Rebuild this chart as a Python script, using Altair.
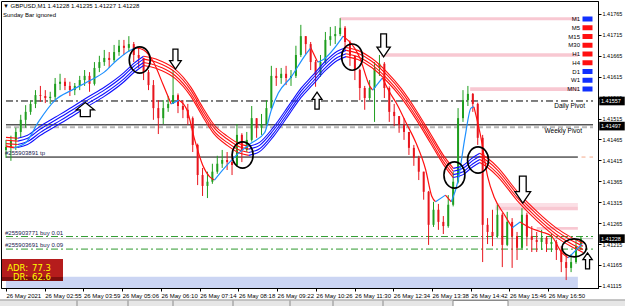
import altair as alt
import pandas as pd

# ---------------- data (GBPUSD M1, 26 May 2021) ----------------
# time axis: minutes after 01:51, one sampled bar every ~8 minutes
x_labels = ["26 May 2021", "26 May 02:55", "26 May 03:59", "26 May 05:06", "26 May 06:10",
            "26 May 07:14", "26 May 08:18", "26 May 09:22", "26 May 10:26", "26 May 11:30",
            "26 May 12:34", "26 May 13:38", "26 May 14:42", "26 May 15:46", "26 May 16:50"]
x_tick_min = [0, 64, 128, 192, 256, 320, 384, 448, 512, 576, 640, 704, 768, 832, 896]
y_ticks = [1.41115, 1.41165, 1.41215, 1.41265, 1.41315, 1.41365, 1.41415, 1.41465,
           1.41515, 1.41565, 1.41615, 1.41665, 1.41715, 1.41765]

close = [1.41447, 1.41464, 1.41483, 1.41512, 1.41531, 1.41550, 1.41571, 1.41569, 1.41564, 1.41567,
         1.41598, 1.41603, 1.41593, 1.41583, 1.41593, 1.41607, 1.41617, 1.41598, 1.41636, 1.41650,
         1.41660, 1.41655, 1.41674, 1.41689, 1.41684, 1.41693, 1.41667, 1.41660, 1.41626, 1.41595,
         1.41540, 1.41516, 1.41540, 1.41550, 1.41571, 1.41545, 1.41536, 1.41516, 1.41452, 1.41380,
         1.41354, 1.41364, 1.41388, 1.41407, 1.41416, 1.41411, 1.41404, 1.41476, 1.41440, 1.41464,
         1.41516, 1.41493, 1.41502, 1.41540, 1.41617, 1.41612, 1.41622, 1.41612, 1.41617, 1.41667,
         1.41712, 1.41693, 1.41650, 1.41619, 1.41650, 1.41703, 1.41712, 1.41717, 1.41732, 1.41698,
         1.41665, 1.41631, 1.41588, 1.41564, 1.41588, 1.41636, 1.41646, 1.41588, 1.41531, 1.41521,
         1.41500, 1.41483, 1.41445, 1.41421, 1.41388, 1.41340, 1.41261, 1.41297, 1.41268, 1.41258,
         1.41309, 1.41364, 1.41516, 1.41559, 1.41574, 1.41550, 1.41469, 1.41261, 1.41244, 1.41234,
         1.41285, 1.41213, 1.41268, 1.41234, 1.41206, 1.41285, 1.41234, 1.41225, 1.41220, 1.41230,
         1.41215, 1.41220, 1.41201, 1.41172, 1.41158, 1.41172, 1.41210, 1.41228]
high = [1.41464, 1.41474, 1.41493, 1.41524, 1.41547, 1.41559, 1.41583, 1.41593, 1.41583, 1.41579,
        1.41612, 1.41622, 1.41612, 1.41603, 1.41600, 1.41617, 1.41631, 1.41626, 1.41650, 1.41665,
        1.41679, 1.41674, 1.41691, 1.41703, 1.41703, 1.41712, 1.41698, 1.41684, 1.41660, 1.41631,
        1.41607, 1.41559, 1.41559, 1.41569, 1.41631, 1.41575, 1.41559, 1.41550, 1.41520, 1.41455,
        1.41397, 1.41388, 1.41407, 1.41426, 1.41440, 1.41435, 1.41431, 1.41502, 1.41480, 1.41483,
        1.41545, 1.41516, 1.41526, 1.41559, 1.41641, 1.41636, 1.41636, 1.41641, 1.41631, 1.41689,
        1.41739, 1.41712, 1.41698, 1.41655, 1.41667, 1.41722, 1.41734, 1.41736, 1.41755, 1.41736,
        1.41702, 1.41665, 1.41634, 1.41593, 1.41607, 1.41650, 1.41667, 1.41650, 1.41592, 1.41550,
        1.41521, 1.41516, 1.41483, 1.41452, 1.41426, 1.41388, 1.41342, 1.41316, 1.41311, 1.41282,
        1.41332, 1.41388, 1.41540, 1.41583, 1.41593, 1.41576, 1.41553, 1.41476, 1.41277, 1.41297,
        1.41309, 1.41290, 1.41292, 1.41277, 1.41244, 1.41301, 1.41290, 1.41258, 1.41244, 1.41249,
        1.41234, 1.41239, 1.41225, 1.41210, 1.41191, 1.41191, 1.41225, 1.41234]
low = [1.41421, 1.41414, 1.41440, 1.41469, 1.41493, 1.41524, 1.41540, 1.41555, 1.41552, 1.41550,
       1.41559, 1.41583, 1.41583, 1.41569, 1.41571, 1.41583, 1.41593, 1.41579, 1.41594, 1.41626,
       1.41641, 1.41636, 1.41650, 1.41665, 1.41667, 1.41674, 1.41650, 1.41636, 1.41607, 1.41583,
       1.41512, 1.41478, 1.41502, 1.41531, 1.41550, 1.41528, 1.41516, 1.41500, 1.41435, 1.41356,
       1.41330, 1.41325, 1.41359, 1.41383, 1.41397, 1.41392, 1.41380, 1.41400, 1.41411, 1.41435,
       1.41460, 1.41469, 1.41476, 1.41498, 1.41536, 1.41593, 1.41598, 1.41595, 1.41593, 1.41612,
       1.41662, 1.41669, 1.41631, 1.41591, 1.41615, 1.41646, 1.41689, 1.41693, 1.41712, 1.41679,
       1.41641, 1.41607, 1.41559, 1.41536, 1.41559, 1.41507, 1.41617, 1.41564, 1.41507, 1.41497,
       1.41481, 1.41464, 1.41428, 1.41402, 1.41368, 1.41321, 1.41213, 1.41256, 1.41249, 1.41239,
       1.41254, 1.41305, 1.41360, 1.41507, 1.41545, 1.41531, 1.41452, 1.41172, 1.41215, 1.41210,
       1.41230, 1.41160, 1.41210, 1.41158, 1.41177, 1.41202, 1.41210, 1.41196, 1.41196, 1.41201,
       1.41196, 1.41196, 1.41177, 1.41148, 1.41129, 1.41148, 1.41168, 1.41201]
first_open = 1.41440

# fast moving average
fast_t = [0, 13.0, 32.5, 53.6, 81.2, 108.8, 134.8, 162.4, 183.6, 206.3,
          216.0, 227.4, 243.7, 259.9, 272.9, 285.9, 298.9, 311.9, 324.9, 336.3,
          344.4, 362.2, 385.0, 406.1, 427.2, 438.6, 450.0, 471.1, 492.2, 503.6,
          514.9, 523.1, 557.2, 584.8, 601.0, 605.9, 622.1, 633.5, 644.9, 661.1,
          677.4, 693.6, 703.4, 709.9, 726.1, 735.9, 747.2, 758.6, 768.3, 773.2,
          784.6, 795.9, 807.3, 823.6, 836.6, 849.6, 865.8, 885.3, 901.5, 917.8,
          929.2, 942.2, 951.9]
fast_v = [1.41450, 1.41445, 1.41457, 1.41507, 1.41559, 1.41583, 1.41603, 1.41626, 1.41655, 1.41679,
          1.41684, 1.41679, 1.41650, 1.41595, 1.41550, 1.41559, 1.41536, 1.41464, 1.41404, 1.41376,
          1.41368, 1.41399, 1.41433, 1.41457, 1.41481, 1.41536, 1.41576, 1.41614, 1.41662, 1.41684,
          1.41650, 1.41655, 1.41712, 1.41660, 1.41593, 1.41583, 1.41612, 1.41579, 1.41552, 1.41505,
          1.41457, 1.41392, 1.41330, 1.41316, 1.41332, 1.41316, 1.41368, 1.41471, 1.41540, 1.41543,
          1.41471, 1.41376, 1.41325, 1.41285, 1.41254, 1.41268, 1.41254, 1.41244, 1.41234, 1.41196,
          1.41182, 1.41201, 1.41215]

# slow ribbon (four averages)
rib_t = [0, 19.5, 35.7, 56.9, 81.2, 108.8, 134.8, 162.4, 194.9, 211.2,
         227.4, 238.8, 256.7, 279.4, 305.4, 324.9, 344.4, 365.5, 386.6, 401.2,
         419.1, 441.8, 467.8, 487.3, 506.8, 527.9, 547.4, 562.0, 581.5, 604.3,
         630.3, 653.0, 679.0, 701.7, 722.9, 739.1, 755.3, 771.6, 783.0, 795.9,
         812.2, 844.7, 877.2, 909.7, 934.0, 953.5]
rib_1 = [1.41470, 1.41468, 1.41475, 1.41497, 1.41518, 1.41542, 1.41566, 1.41590, 1.41625, 1.41647,
         1.41664, 1.41661, 1.41652, 1.41633, 1.41590, 1.41542, 1.41499, 1.41473, 1.41454, 1.41449,
         1.41458, 1.41494, 1.41547, 1.41587, 1.41618, 1.41652, 1.41676, 1.41685, 1.41678, 1.41659,
         1.41625, 1.41587, 1.41532, 1.41478, 1.41427, 1.41396, 1.41403, 1.41422, 1.41432, 1.41420,
         1.41399, 1.41341, 1.41293, 1.41253, 1.41231, 1.41217]
rib_2 = [1.41463, 1.41461, 1.41468, 1.41490, 1.41511, 1.41535, 1.41559, 1.41583, 1.41618, 1.41640,
         1.41657, 1.41654, 1.41645, 1.41626, 1.41583, 1.41535, 1.41492, 1.41466, 1.41447, 1.41442,
         1.41451, 1.41487, 1.41540, 1.41580, 1.41611, 1.41645, 1.41669, 1.41678, 1.41671, 1.41652,
         1.41618, 1.41580, 1.41525, 1.41471, 1.41420, 1.41389, 1.41396, 1.41415, 1.41425, 1.41413,
         1.41392, 1.41334, 1.41286, 1.41246, 1.41224, 1.41210]
rib_3 = [1.41455, 1.41453, 1.41460, 1.41482, 1.41503, 1.41527, 1.41551, 1.41575, 1.41610, 1.41632,
         1.41649, 1.41646, 1.41637, 1.41618, 1.41575, 1.41527, 1.41484, 1.41458, 1.41439, 1.41434,
         1.41443, 1.41479, 1.41532, 1.41572, 1.41603, 1.41637, 1.41661, 1.41670, 1.41663, 1.41644,
         1.41610, 1.41572, 1.41517, 1.41463, 1.41412, 1.41381, 1.41388, 1.41407, 1.41417, 1.41405,
         1.41384, 1.41326, 1.41278, 1.41238, 1.41216, 1.41202]
rib_4 = [1.41448, 1.41446, 1.41453, 1.41475, 1.41496, 1.41520, 1.41544, 1.41568, 1.41603, 1.41625,
         1.41642, 1.41639, 1.41630, 1.41611, 1.41568, 1.41520, 1.41477, 1.41451, 1.41432, 1.41427,
         1.41436, 1.41472, 1.41525, 1.41565, 1.41596, 1.41630, 1.41654, 1.41663, 1.41656, 1.41637,
         1.41603, 1.41565, 1.41510, 1.41456, 1.41405, 1.41374, 1.41381, 1.41400, 1.41410, 1.41398,
         1.41377, 1.41319, 1.41271, 1.41231, 1.41209, 1.41195]

# levels
daily_pivot = 1.41557
weekly_pivot = 1.41500
weekly_pivot_ref = 1.41494
tp_level = 1.41423
buy1_level = 1.41233
buy2_level = 1.41203
bid = 1.41228
axis_marks = [1.41557, 1.41497, 1.41228]

# support / resistance zones: start, end (minutes), top, bottom
zone_t0 = [552, 620, 767, 809, 809, 877, 0]
zone_t1 = [945, 945, 945, 945, 945, 945, 945]
zone_top = [1.41757, 1.41671, 1.41590, 1.41313, 1.41305, 1.41256, 1.41137]
zone_bot = [1.41750, 1.41663, 1.41581, 1.41305, 1.41296, 1.41249, 1.41110]
zone_kind = ["pink", "pink", "pink", "light", "pink", "pink", "blue"]

timeframes = ["M1", "M5", "M15", "M30", "H1", "H4", "D1", "W1", "MN1"]
tf_signal = ["up", "down", "down", "down", "down", "down", "up", "up", "up"]

circle_t = [221, 391, 572, 741, 780]
circle_p = [1.41655, 1.41428, 1.41662, 1.41380, 1.41416]
last_circle = (939, 1.41206)

# ---------------- layout ----------------
W, H = 597, 287
X_DOM = [0, 970]
Y_DOM = [1.41110, 1.41796]
FONT = "Liberation Sans"

lbl_expr = "[" + ",".join("'%s'" % s for s in x_labels) + "][round(datum.value/64)]"
x_axis = alt.Axis(values=x_tick_min, labelExpr=lbl_expr, labelAlign="left", labelFont=FONT,
                  labelFontSize=6, labelColor="black", tickColor="black", tickSize=3,
                  domainColor="black", labelPadding=1, grid=False, title=None,
                  labelOverlap=False, labelFlush=False, labelBound=False)
y_axis = alt.Axis(orient="right", values=y_ticks, format=".5f", labelFont=FONT,
                  labelFontSize=5.5, labelColor="black", tickColor="black", tickSize=3,
                  domainColor="black", labelPadding=1, grid=False, title=None,
                  labelOverlap=False, labelFlush=False, labelBound=False)


def X(f):
    return alt.X(f + ":Q", scale=alt.Scale(domain=X_DOM, nice=False, zero=False), axis=x_axis)


def Y(f):
    return alt.Y(f + ":Q", scale=alt.Scale(domain=Y_DOM, nice=False, zero=False), axis=y_axis)


layers = []
box = pd.DataFrame({"a": [0]})

# terminal tab strip under the time axis
layers.append(alt.Chart(box).mark_rect(color="#e6e6e6").encode(
    x=alt.value(-1), x2=alt.value(625), y=alt.value(298.5), y2=alt.value(306)))
layers.append(alt.Chart(box).mark_rule(color="#9a9a9a", strokeWidth=1).encode(
    x=alt.value(-1), x2=alt.value(625), y=alt.value(299)))
layers.append(alt.Chart(box).mark_rect(color="white", stroke="#8a8a8a", strokeWidth=1).encode(
    x=alt.value(452), x2=alt.value(507), y=alt.value(299.5), y2=alt.value(306)))
tab_edges = pd.DataFrame({"x": [76, 127, 172, 232, 289, 332, 382]})
layers.append(alt.Chart(tab_edges).mark_rule(color="#8a8a8a", strokeWidth=1).encode(
    x=alt.X("x:Q", scale=None), y=alt.value(299.5), y2=alt.value(306)))

# zones
zcol = {"pink": "#f8c8d2", "light": "#fbdfe5", "blue": "#cbd5f3"}
zdf = pd.DataFrame({"t0": zone_t0, "t1": zone_t1, "top": zone_top, "bot": zone_bot,
                    "col": [zcol[k] for k in zone_kind]})
layers.append(alt.Chart(zdf).mark_rect().encode(x=X("t0"), x2="t1", y=Y("top"), y2="bot",
                                                color=alt.Color("col:N", scale=None)))


def hline(price, color, width=1.0, dash=None, t0=X_DOM[0], t1=X_DOM[1]):
    kw = dict(color=color, strokeWidth=width)
    if dash:
        kw["strokeDash"] = dash
    d = pd.DataFrame({"p": [price], "t0": [t0], "t1": [t1]})
    return alt.Chart(d).mark_rule(**kw).encode(x=X("t0"), x2="t1", y=Y("p"))


layers += [
    hline(weekly_pivot_ref, "#b8b8b8", 2, [5, 3]),
    hline(daily_pivot, "black", 1, [7, 3, 2, 3]),
    hline(weekly_pivot, "black", 1),
    hline(tp_level, "black", 1, None, 0, 945),
    hline(tp_level, "#f4a98a", 1, [4, 4], 951, 970),
    hline(bid, "#c0c0c0", 1),
    hline(buy1_level, "#2e9a2e", 1, [7, 3, 2, 3]),
    hline(buy2_level, "#2e9a2e", 1, [7, 3, 2, 3]),
]

# candles
opens = [first_open] + close[:-1]
cdf = pd.DataFrame({"t": [i * 8.12 for i in range(len(close))], "o": opens, "h": high,
                    "l": low, "c": close})
cdf["col"] = ["#1f9e1f" if c >= o else "#e8141c" for o, c in zip(cdf.o, cdf.c)]
layers.append(alt.Chart(cdf).mark_rule(strokeWidth=1).encode(
    x=X("t"), y=Y("l"), y2="h", color=alt.Color("col:N", scale=None)))
layers.append(alt.Chart(cdf).mark_bar(size=2).encode(
    x=X("t"), y=Y("o"), y2="c", color=alt.Color("col:N", scale=None)))


def runs(ts, vs, name, up_col, dn_col):
    rows, run, prev = [], 0, None
    for i in range(len(ts) - 1):
        d = vs[i + 1] >= vs[i]
        if prev is not None and d != prev:
            run += 1
        key = f"{name}{run}"
        col = up_col if d else dn_col
        if not rows or rows[-1]["key"] != key:
            rows.append({"t": ts[i], "v": vs[i], "col": col, "key": key, "o": i})
        rows.append({"t": ts[i + 1], "v": vs[i + 1], "col": col, "key": key, "o": i + 1})
        prev = d
    return rows


rrows = []
for n, r in enumerate([rib_1, rib_2, rib_3, rib_4]):
    rrows += runs(rib_t, r, f"r{n}_", "#1010ff", "#ff1010")
rdf = pd.DataFrame(rrows)
layers.append(alt.Chart(rdf).mark_line(interpolate="monotone", strokeWidth=1.1).encode(
    x=X("t"), y=Y("v"), detail="key:N", order="o:Q", color=alt.Color("col:N", scale=None)))

fdf = pd.DataFrame(runs(fast_t, fast_v, "f", "#1e90ff", "#ff1010"))
layers.append(alt.Chart(fdf).mark_line(interpolate="monotone", strokeWidth=1.2).encode(
    x=X("t"), y=Y("v"), detail="key:N", order="o:Q", color=alt.Color("col:N", scale=None)))

# circles
ell_tall = "M 1 0 C 1 0.69 0.552 1.25 0 1.25 C -0.552 1.25 -1 0.69 -1 0 C -1 -0.69 -0.552 -1.25 0 -1.25 C 0.552 -1.25 1 -0.69 1 0 Z"
ell_wide = "M 1.35 0 C 1.35 0.552 0.745 1 0 1 C -0.745 1 -1.35 0.552 -1.35 0 C -1.35 -0.552 -0.745 -1 0 -1 C 0.745 -1 1.35 -0.552 1.35 0 Z"
layers.append(alt.Chart(pd.DataFrame({"t": circle_t, "p": circle_p})).mark_point(
    shape=ell_tall, size=441, filled=False, stroke="black", strokeWidth=1.6, opacity=1).encode(
    x=X("t"), y=Y("p")))
layers.append(alt.Chart(pd.DataFrame({"t": [last_circle[0]], "p": [last_circle[1]]})).mark_point(
    shape=ell_wide, size=324, filled=False, stroke="black", strokeWidth=1.6, opacity=1).encode(
    x=X("t"), y=Y("p")))

# arrows
arr_down = "M -0.25 -1 L 0.25 -1 L 0.25 0.15 L 0.58 0.15 L 0 1 L -0.58 0.15 L -0.25 0.15 Z"
arr_up = "M -0.25 1 L 0.25 1 L 0.25 -0.15 L 0.58 -0.15 L 0 -1 L -0.58 -0.15 L -0.25 -0.15 Z"
arr_up_wide = "M 0 -0.8 L 1 0 L 0.55 0 L 0.55 0.75 L -0.55 0.75 L -0.55 0 L -1 0 Z"
arrow_marks = [(arr_up_wide, 131, 1.41536, 324), (arr_down, 280, 1.41657, 400),
               (arr_up, 514, 1.41558, 289), (arr_down, 624, 1.41690, 529),
               (arr_down, 854, 1.41345, 729), (arr_up, 961, 1.41175, 256)]
for shp, t, p, s in arrow_marks:
    layers.append(alt.Chart(pd.DataFrame({"t": [t], "p": [p]})).mark_point(
        shape=shp, size=s, filled=True, fill="white", stroke="black", strokeWidth=1.3,
        opacity=1).encode(x=X("t"), y=Y("p")))


def ptext(txt, x, y, size=6, color="black", align="left", font=FONT, weight="normal"):
    return alt.Chart(pd.DataFrame({"a": [0]})).mark_text(
        text=txt, align=align, baseline="middle", font=font, fontSize=size, color=color,
        fontWeight=weight).encode(x=alt.value(x), y=alt.value(y))


def ltext(txt, price, x, dy, align="left", size=6, color="black"):
    return alt.Chart(pd.DataFrame({"p": [price]})).mark_text(
        text=txt, align=align, baseline="middle", font=FONT, fontSize=size, color=color,
        dy=dy).encode(x=alt.value(x), y=Y("p"))


layers += [
    ptext("\u25BC GBPUSD,M1  1.41228 1.41235 1.41227 1.41228", 2, 5),
    ptext("Sunday Bar ignored", 2, 14),
    ltext("Daily Pivot", daily_pivot, 584, 5, "right", 6.5),
    ltext("Weekly Pivot", weekly_pivot, 581, 6, "right", 6.5),
    ltext("#255903891 tp", tp_level, 4, -4, "left", 6, "#1a1a50"),
    ltext("#255903771 buy 0.01", buy1_level, 4, -4, "left", 6, "#1a1a50"),
    ltext("#255903691 buy 0.09", buy2_level, 4, -4, "left", 6, "#1a1a50"),
]

# timeframe signal panel
tf_price = [Y_DOM[1] - (18 + 8.75 * i) * (Y_DOM[1] - Y_DOM[0]) / H for i in range(len(timeframes))]
tfdf = pd.DataFrame({"tf": timeframes, "p": tf_price,
                     "col": ["#1030ff" if s == "up" else "#ff1010" for s in tf_signal]})
layers.append(alt.Chart(tfdf).mark_text(align="right", baseline="middle", font=FONT,
                                        fontSize=6, color="black").encode(
    x=alt.value(579), y=Y("p"), text="tf:N"))
layers.append(alt.Chart(tfdf).mark_point(
    shape="M -1 -0.5 L 1 -0.5 L 1 0.5 L -1 0.5 Z", size=100, filled=True, opacity=1).encode(
    x=alt.value(586.5), y=Y("p"), color=alt.Color("col:N", scale=None)))

# highlighted axis labels (they cover the regular tick label beneath, as in the terminal)
axdf = pd.DataFrame({"p": axis_marks, "txt": ["%.5f" % v for v in axis_marks]})
layers.append(alt.Chart(axdf).mark_point(
    shape="M -1 -0.34 L 1 -0.34 L 1 0.34 L -1 0.34 Z", size=650, filled=True, color="black",
    opacity=1).encode(x=alt.value(611), y=Y("p")))
layers.append(alt.Chart(axdf).mark_text(align="left", baseline="middle", font=FONT,
                                        fontSize=5.5, color="white").encode(
    x=alt.value(600), y=Y("p"), text="txt:N"))

# ADR box
layers.append(alt.Chart(box).mark_rect(color="#b51c1c").encode(
    x=alt.value(1), x2=alt.value(62), y=alt.value(258), y2=alt.value(280)))
layers.append(alt.Chart(box).mark_rect(color="#7d0e0e").encode(
    x=alt.value(1), x2=alt.value(62), y=alt.value(276), y2=alt.value(280)))
layers += [
    ptext("ADR:", 27, 266.5, 8.5, "#ffff00", "right", "DejaVu Sans"),
    ptext("77.3", 31, 266.5, 8.5, "#ffff00", "left", "DejaVu Sans"),
    ptext("DR:", 27, 275.5, 8.5, "#ffff00", "right", "DejaVu Sans"),
    ptext("62.6", 31, 275.5, 8.5, "#ffff00", "left", "DejaVu Sans"),
]

chart = alt.layer(*layers).properties(
    width=W, height=H, autosize=alt.AutoSizeParams(type="none"),
    padding={"left": 1, "top": 1, "right": 27, "bottom": 18},
    background="white",
).configure_view(stroke="black", strokeWidth=1)

chart.save("out.html", embed_options={"renderer": "svg", "actions": False})
